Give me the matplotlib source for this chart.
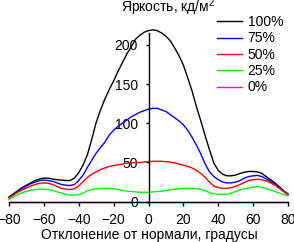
import matplotlib
matplotlib.use("Agg")
import matplotlib.pyplot as plt

plt.rcParams["font.family"] = ["Liberation Sans", "DejaVu Sans"]
plt.rcParams["mathtext.fontset"] = "custom"
plt.rcParams["mathtext.rm"] = "Liberation Sans"
plt.rcParams["mathtext.it"] = "Liberation Sans"

# viewing angle, degrees (-80 .. 80, step 2.5)
angles = [k * 2.5 for k in range(-32, 33)]

lum_100 = [6, 10, 14, 18, 21, 24, 27, 29, 30, 30, 29, 28, 27.5,
           27, 27, 30, 37, 47, 60, 80, 101, 117, 131, 143, 154, 166,
           177, 188, 197, 207, 212, 216, 218, 219, 218, 215, 211, 205, 196,
           186, 174, 158, 141, 121, 103, 84, 66, 49, 40, 35, 33, 33,
           34, 36, 37.5, 38.5, 38.5, 38, 36, 32, 28, 24, 19, 14, 10]
lum_75 = [5, 9, 13, 17, 20, 23, 25, 27, 27.5, 27, 26, 24, 22,
          21, 20.5, 22, 27, 34, 44, 53, 62, 69, 76, 85, 91, 96,
          100, 104, 108, 111, 114, 116, 118, 119, 119, 117, 115, 111, 107,
          103, 98, 91, 82, 72, 61, 48, 38, 32, 28, 25, 24, 24,
          25, 27, 30, 32, 33, 33.5, 32, 29, 26, 22, 18, 13, 9]
lum_50 = [5, 8.5, 12, 15, 17.5, 20, 22, 23.5, 24, 23.5, 22, 19.5, 17,
          16, 15.5, 16.5, 20, 25.5, 31, 35, 38, 41, 43, 45, 46, 47,
          48, 49, 49.5, 50, 50, 50.5, 51, 51.5, 51.5, 51.5, 51, 50.5, 49.5,
          48, 46.5, 45, 43, 40, 36, 31, 25, 20, 18, 17, 17, 18,
          19.5, 22, 24.5, 27, 28, 28.5, 28, 26.5, 24, 21, 17, 13, 9]
lum_25 = [3, 6, 9, 11.5, 13, 14.5, 15.5, 16, 16, 15.5, 14.5, 12.5, 11,
          9.5, 8.5, 8.5, 9, 11, 14, 15.5, 16.5, 17, 17, 17, 16.5, 15.5,
          14.5, 13.5, 13, 12.5, 12, 12, 12, 12.5, 13, 13.5, 14, 15, 16,
          16.5, 17, 17, 17, 16.5, 16, 14, 11.5, 10, 9.5, 9.5, 9.5, 11,
          13, 15, 16.5, 17.5, 18.5, 19, 18.5, 17, 15, 13, 11, 9, 7.5]
lum_0 = [0] * len(angles)

series = [
    ("100%", lum_100, "#000000"),
    ("75%", lum_75, "#0000ff"),
    ("50%", lum_50, "#ff0000"),
    ("25%", lum_25, "#00ff00"),
    ("0%", lum_0, "#ff00ff"),
]

fig = plt.figure(figsize=(2.94, 2.42), dpi=100)
ax = fig.add_axes([9 / 294, 1 - 201.7 / 242, 279 / 294, (201.7 - 33) / 242])

handles = []
for label, values, color in series:
    (ln,) = ax.plot(angles, values, color=color, lw=1.0, label=label,
                    clip_on=False, zorder=2)
    handles.append(ln)

ax.set_xlim(-80, 80)
ax.set_ylim(0, 215)
ax.set_xticks(range(-80, 81, 20))
ax.set_yticks([0, 50, 100, 150, 200])

ax.spines["top"].set_visible(False)
ax.spines["right"].set_visible(False)
ax.spines["left"].set_position(("data", 0))
for sp in ("left", "bottom"):
    ax.spines[sp].set_linewidth(1.0)
    ax.spines[sp].set_zorder(3)

ax.tick_params(axis="x", direction="out", length=3, width=1, pad=5, labelsize=10)
ax.tick_params(axis="y", direction="out", length=2.5, width=1, pad=5, labelsize=10)
ax.patch.set_visible(False)

fig.text(168 / 294, 1 - 12.5 / 242, "Яркость, кд/м$^2$", ha="center",
         va="baseline", fontsize=10)
fig.text(149 / 294, 1 - 238.5 / 242, "Отклонение от нормали, градусы",
         ha="center", va="baseline", fontsize=10)

fig.legend(handles=handles, loc="upper left",
           bbox_to_anchor=(217 / 294, 1 - 15 / 242), frameon=False,
           borderpad=0, borderaxespad=0, handlelength=1.8, handletextpad=0.4,
           labelspacing=0.17, fontsize=10)

fig.savefig("out.png", dpi=100)
